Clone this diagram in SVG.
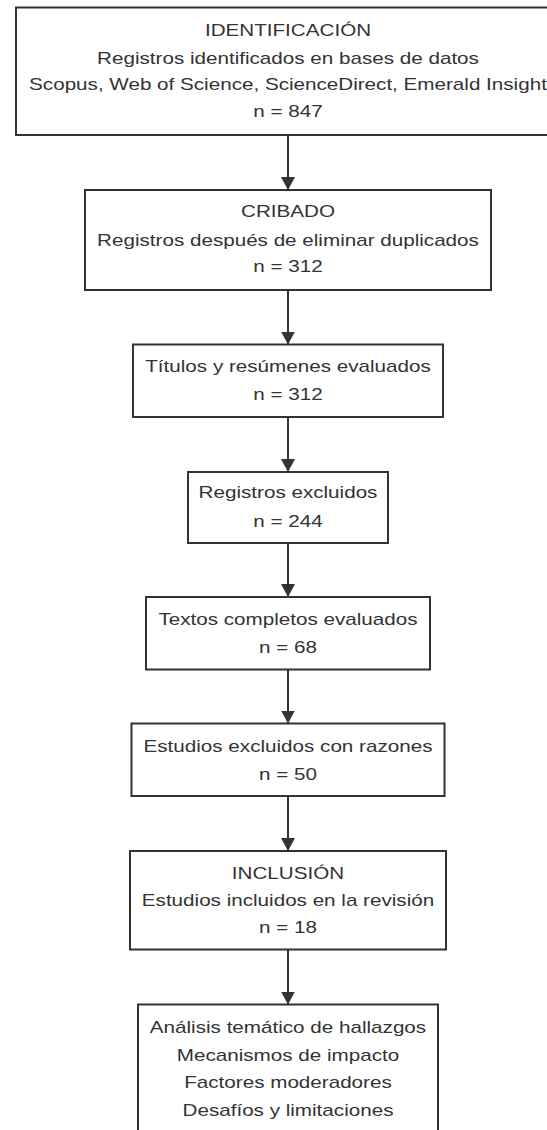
<svg xmlns="http://www.w3.org/2000/svg" width="547" height="1130" viewBox="0 0 547 1130">
<style>
.box{fill:#ffffff;stroke:#333333;stroke-width:2}
.lbl{font-family:"Liberation Sans",Arial,sans-serif;font-size:16px;fill:#333333;text-anchor:middle}
.edge{stroke:#333333;stroke-width:2;fill:none;marker-end:url(#arrow)}
</style>
<defs>
<marker id="arrow" markerUnits="userSpaceOnUse" markerWidth="14" markerHeight="14" refX="13" refY="7" orient="auto">
<path d="M0,0 L13,7 L0,14 z" fill="#333333"/>
</marker>
</defs>
<rect width="547" height="1130" fill="#ffffff"/>
<g id="connectors">
<line class="edge" x1="288" y1="135" x2="288" y2="190"/>
<line class="edge" x1="288" y1="290" x2="288" y2="344.5"/>
<line class="edge" x1="288" y1="417" x2="288" y2="472"/>
<line class="edge" x1="288" y1="543" x2="288" y2="597"/>
<line class="edge" x1="288" y1="669.5" x2="288" y2="723.5"/>
<line class="edge" x1="288" y1="796" x2="288" y2="851"/>
<line class="edge" x1="288" y1="949.5" x2="288" y2="1004.5"/>
</g>
<g id="identificacion">
<rect class="box" x="16" y="7.5" width="544" height="127.5"/>
<g class="lbl" transform="matrix(1.29 0 0 1 -83.52 0)">
<text x="288" y="36">IDENTIFICACIÓN</text>
<text x="288" y="64">Registros identificados en bases de datos</text>
<text x="288" y="90">Scopus, Web of Science, ScienceDirect, Emerald Insight</text>
<text x="288" y="117">n = 847</text>
</g>
</g>
<g id="cribado">
<rect class="box" x="85" y="190" width="406" height="100"/>
<g class="lbl" transform="matrix(1.29 0 0 1 -83.52 0)">
<text x="288" y="217.5">CRIBADO</text>
<text x="288" y="246.5">Registros después de eliminar duplicados</text>
<text x="288" y="272.5">n = 312</text>
</g>
</g>
<g id="titulos">
<rect class="box" x="133" y="344.5" width="310" height="72.5"/>
<g class="lbl" transform="matrix(1.29 0 0 1 -83.52 0)">
<text x="288" y="372">Títulos y resúmenes evaluados</text>
<text x="288" y="400">n = 312</text>
</g>
</g>
<g id="excluidos">
<rect class="box" x="188" y="472" width="200" height="71"/>
<g class="lbl" transform="matrix(1.29 0 0 1 -83.52 0)">
<text x="288" y="498.5">Registros excluidos</text>
<text x="288" y="527">n = 244</text>
</g>
</g>
<g id="textos">
<rect class="box" x="146" y="597" width="284" height="72.5"/>
<g class="lbl" transform="matrix(1.29 0 0 1 -83.52 0)">
<text x="288" y="625">Textos completos evaluados</text>
<text x="288" y="653">n = 68</text>
</g>
</g>
<g id="estudios-excluidos">
<rect class="box" x="131.5" y="723.5" width="313" height="72.5"/>
<g class="lbl" transform="matrix(1.29 0 0 1 -83.52 0)">
<text x="288" y="752.5">Estudios excluidos con razones</text>
<text x="288" y="780">n = 50</text>
</g>
</g>
<g id="inclusion">
<rect class="box" x="130" y="851" width="316" height="98.5"/>
<g class="lbl" transform="matrix(1.29 0 0 1 -83.52 0)">
<text x="288" y="879">INCLUSIÓN</text>
<text x="288" y="906.5">Estudios incluidos en la revisión</text>
<text x="288" y="933">n = 18</text>
</g>
</g>
<g id="analisis">
<rect class="box" x="138" y="1004.5" width="300" height="140"/>
<g class="lbl" transform="matrix(1.29 0 0 1 -83.52 0)">
<text x="288" y="1033">Análisis temático de hallazgos</text>
<text x="288" y="1061.5">Mecanismos de impacto</text>
<text x="288" y="1088.5">Factores moderadores</text>
<text x="288" y="1116">Desafíos y limitaciones</text>
</g>
</g>
</svg>
